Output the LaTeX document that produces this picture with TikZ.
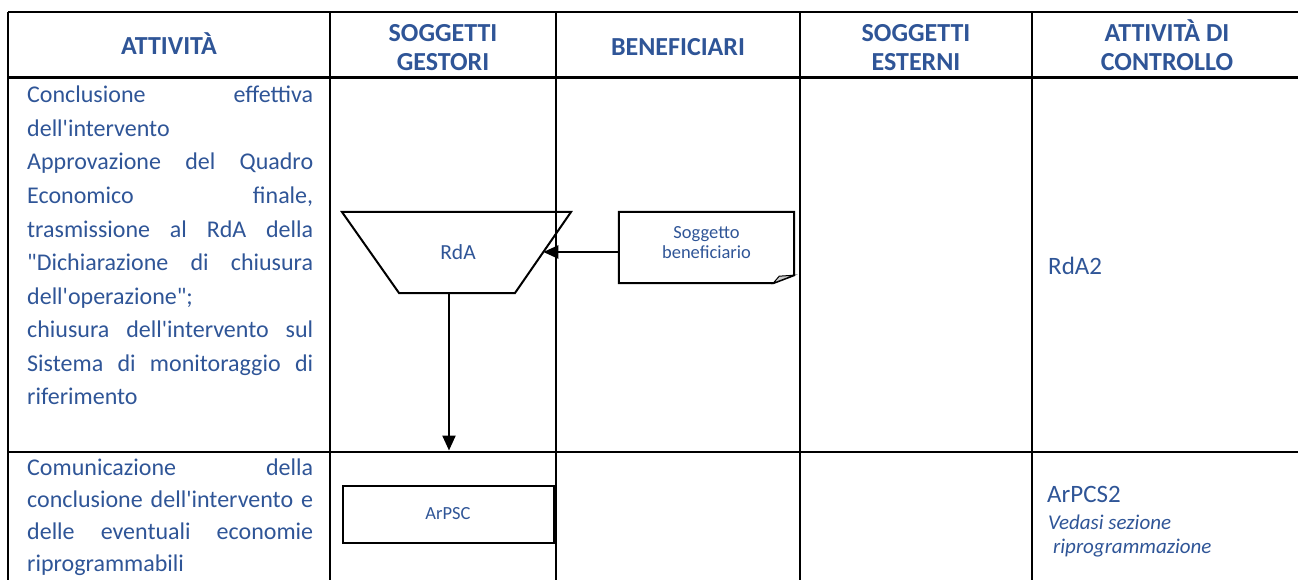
\documentclass[tikz,border=0pt]{standalone}
\usepackage{fontspec}
\setmainfont{Carlito}
\usetikzlibrary{arrows.meta,calc}
\definecolor{txtblue}{RGB}{47,85,151}
\definecolor{foldgray}{RGB}{205,205,205}
\newcommand{\ap}{\textquotesingle}
\newcommand{\jus}[1]{\makebox[286pt][s]{#1}}
\begin{document}
\begin{tikzpicture}[x=1pt,y=-1pt,
  grid/.style={line width=2.4pt,black},
  hdr/.style={font=\fontsize{26}{30}\selectfont\bfseries, text=txtblue, inner sep=0, anchor=base},
  body/.style={font=\fontsize{24}{33}\selectfont, text=txtblue, inner sep=0, anchor=base west},
  ctrl/.style={font=\fontsize{25}{30}\selectfont, text=txtblue, inner sep=0, anchor=base west},
  note/.style={font=\fontsize{21}{25}\selectfont\itshape, text=txtblue, inner sep=0, anchor=base west},
  shapeline/.style={line width=2pt},
  arr/.style={line width=2.3pt,-{Triangle[length=15pt,width=13pt]}}
]
\useasboundingbox (0,0) rectangle (1298,580);
% grid
\draw[grid] (8,12) -- (1298,12);
\draw[grid] (8,77.5) -- (1298,77.5);
\draw[grid] (8,452) -- (1298,452);
\foreach \xx in {8,330,555.7,800,1032} {\draw[grid] (\xx,12) -- (\xx,580);}
% headers
\node[hdr] (h1) at (169,54.5) {ATTIVITÀ};
\node[hdr] (h2a) at (443,42) {SOGGETTI};
\node[hdr] (h2b) at (443,70.5) {GESTORI};
\node[hdr] (h3) at (678,56) {BENEFICIARI};
\node[hdr] (h4a) at (916,42) {SOGGETTI};
\node[hdr] (h4b) at (916,70.5) {ESTERNI};
\node[hdr] (h5a) at (1167,42) {ATTIVITÀ DI};
\node[hdr] (h5b) at (1167,70.5) {CONTROLLO};
% row 1 activity text
\node[body] (a1) at (27,103) {\jus{Conclusione effettiva}};
\node[body] (a2) at (27,136.5) {dell\ap intervento};
\node[body] (a3) at (27,170) {\jus{Approvazione del Quadro}};
\node[body] (a4) at (27,203.5) {\jus{Economico finale,}};
\node[body] (a5) at (27,237) {\jus{trasmissione al RdA della}};
\node[body] (a6) at (27,270.5) {\jus{\textquotedbl Dichiarazione di chiusura}};
\node[body] (a7) at (27,304) {dell\ap operazione\textquotedbl;};
\node[body] (a8) at (27,337.5) {\jus{chiusura dell\ap intervento sul}};
\node[body] (a9) at (27,371) {\jus{Sistema di monitoraggio di}};
\node[body] (a10) at (27,404.5) {riferimento};
% row 2 activity text
\node[body] (b1) at (27,475) {\jus{Comunicazione della}};
\node[body] (b2) at (27,507) {\jus{conclusione dell\ap intervento e}};
\node[body] (b3) at (27,539) {\jus{delle eventuali economie}};
\node[body] (b4) at (27,571) {riprogrammabili};
% RdA trapezoid
\coordinate (trTL) at (342,212);
\coordinate (trTR) at (571,212);
\coordinate (trBR) at (515,293);
\coordinate (trBL) at (399,293);
\draw[shapeline, line join=miter] (trTL) -- (trTR) -- (trBR) -- (trBL) -- cycle;
\node[inner sep=0, text=txtblue, font=\fontsize{21.5}{25}\selectfont] (rda) at (458,252) {RdA};
\coordinate (rdaR) at ($(trTR)!0.494!(trBR)$);
% Soggetto beneficiario note
\node[minimum width=175pt, minimum height=71pt, inner sep=0] (note) at (706.5,247.5) {};
\draw[shapeline] (note.north west) -- (note.north east) -- ($(note.south east)+(0,-8)$)
  -- ($(note.south east)+(-21,0)$) -- (note.south west) -- cycle;
\filldraw[fill=foldgray, line width=1pt] ($(note.south east)+(0,-8)$) -- ($(note.south east)+(-21,0)$)
  -- ($(note.south east)+(-15,-7)$) -- cycle;
\node[align=center, inner sep=0, text=txtblue, font=\fontsize{18.5}{20}\selectfont] (notetxt) at (706.5,243) {Soggetto\\beneficiario};
% ArPSC box
\node[draw, shapeline, minimum width=211pt, minimum height=57pt, inner sep=0, text=txtblue,
      font=\fontsize{18.5}{21}\selectfont] (arpsc) at (448,514.5) {\raisebox{3pt}{ArPSC}};
% connectors
\draw[arr] (note.west |- rdaR) -- (rdaR);
\coordinate (fe) at (449,450.5);
\draw[arr] (fe |- trBL) -- (fe);
% control column
\node[ctrl] (rda2) at (1048,274) {RdA2};
\node[ctrl] (arpcs2) at (1047,502) {ArPCS2};
\node[note] (ved1) at (1048,529) {Vedasi sezione};
\node[note] (ved2) at (1053,553.5) {riprogrammazione};
\end{tikzpicture}
\end{document}
